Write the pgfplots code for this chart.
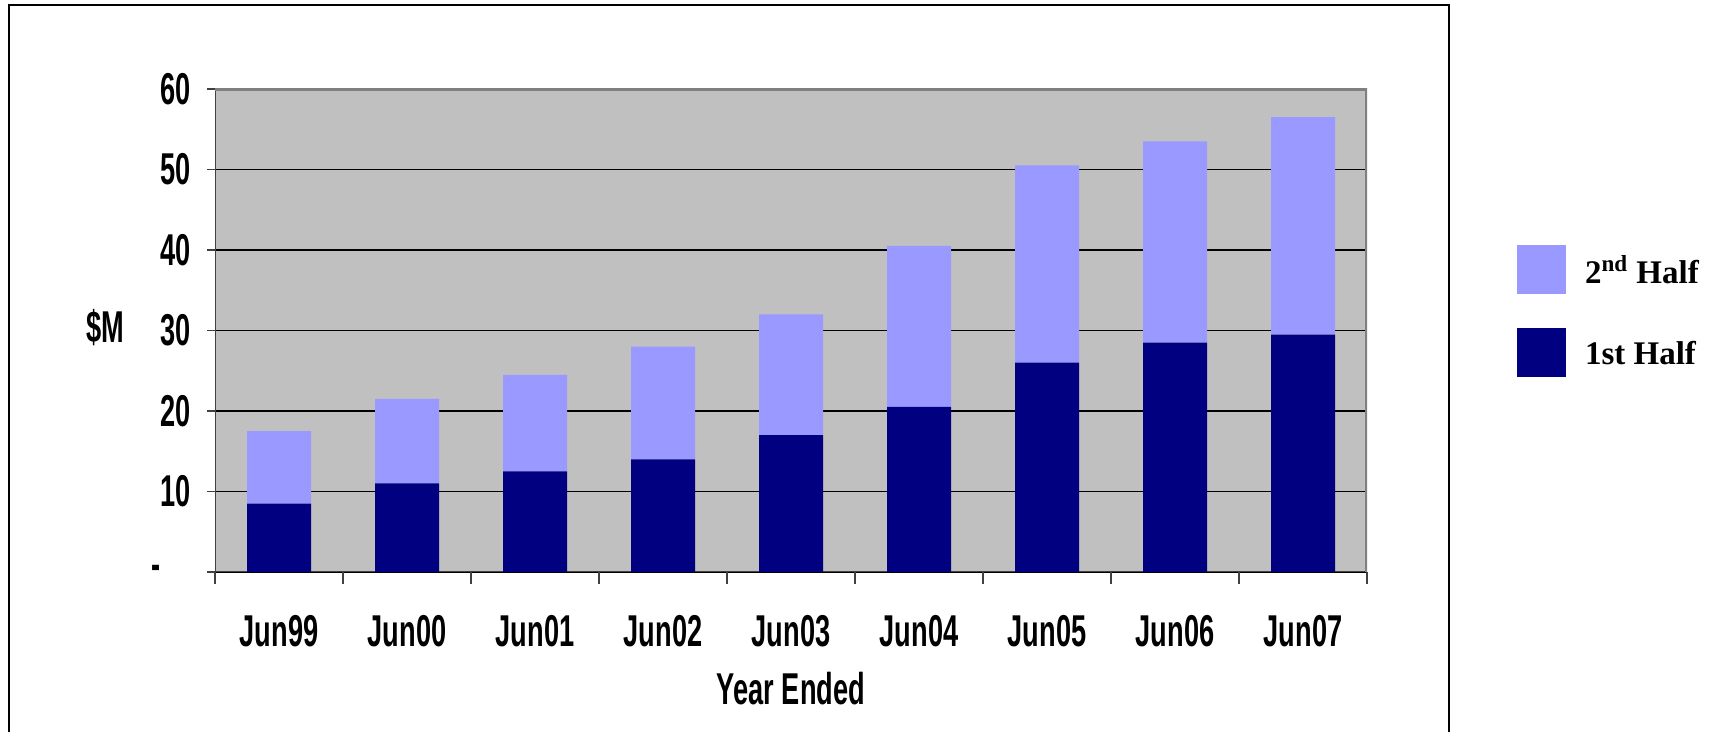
\documentclass[border=0pt]{standalone}
\usepackage{fontspec}
\usepackage{pgfplots}
\pgfplotsset{compat=1.18}
\setmainfont{Liberation Sans}
\newfontfamily\axfont[FakeStretch=0.61]{Liberation Sans}
\newfontfamily\legfont{Liberation Serif}
\definecolor{firsthalf}{HTML}{000080}
\definecolor{secondhalf}{HTML}{9999FF}
\definecolor{plotbg}{HTML}{C0C0C0}
\definecolor{border}{HTML}{808080}

\begin{document}
\begin{tikzpicture}
\useasboundingbox (0,0) rectangle (855.5pt,366pt);
% outer frame (open at the bottom, as in the source)
\draw[line width=0.75pt] (4.5pt,0) -- (4.5pt,363.5pt) -- (724.5pt,363.5pt) -- (724.5pt,0);
\begin{axis}[
  at={(107.5pt,80pt)}, anchor=south west,
  scale only axis, width=576pt, height=241.5pt,
  ybar stacked, bar width=32pt,
  xmin=-0.5, xmax=8.5, ymin=0, ymax=60,
  axis line style={draw=none},
  axis background/.style={fill=plotbg},
  xtick={0,...,8},
  xticklabels={Jun99,Jun00,Jun01,Jun02,Jun03,Jun04,Jun05,Jun06,Jun07},
  major x tick style={draw=none},
  minor xtick={-0.5,0.5,...,8.5},
  minor x tick style={draw=black!75, line width=0.8pt},
  minor tick length=6pt,
  ytick={0,10,...,60},
  yticklabels={{-\rule{15pt}{0pt}},10,20,30,40,50,60},
  major tick length=4pt,
  ytick style={draw=black!75, line width=0.8pt},
  tick align=outside, xtick pos=bottom, ytick pos=left,
  ymajorgrids, grid style={black, line width=0.6pt},
  ticklabel style={font={\axfont\bfseries\fontsize{22.3pt}{26pt}\selectfont}},
  xticklabel style={anchor=base, inner sep=0pt, yshift=-33.5pt},
  yticklabel style={anchor=east, inner sep=0pt, xshift=-8pt},
  xlabel={Year Ended},
  xlabel style={at={(axis description cs:0.5,-0.2733)}, anchor=base, inner sep=0pt,
    font={\axfont\bfseries\fontsize{22.3pt}{26pt}\selectfont}},
  ylabel={\$M},
  ylabel style={at={(axis description cs:-0.0955,0.507)}, anchor=center, rotate=-90, inner sep=0pt,
    font={\axfont\bfseries\fontsize{22.3pt}{26pt}\selectfont}},
  legend style={at={(axis description cs:1.1302,0.677)}, anchor=north west,
    draw=none, fill=none, inner sep=0pt, outer sep=0pt,
    row sep=17pt, column sep=9.5pt,
    nodes={inner sep=0pt, outer sep=0pt},
    font={\legfont\bfseries\fontsize{16.5pt}{20pt}\selectfont}},
  legend cell align=left,
  legend image code/.code={\fill[#1,draw=none] (0pt,-11.5pt) rectangle (24.5pt,13pt);},
  reverse legend,
]
\addplot[fill=firsthalf, draw=none] coordinates {
  (0,8.5) (1,11) (2,12.5) (3,14) (4,17) (5,20.5) (6,26) (7,28.5) (8,29.5)};
\addlegendentry{1st Half}
\addplot[fill=secondhalf, draw=none] coordinates {
  (0,9) (1,10.5) (2,12) (3,14) (4,15) (5,20) (6,24.5) (7,25) (8,27)};
\addlegendentry{2\textsuperscript{nd} Half}
% plot area border
\draw[border, line width=1.6pt] (rel axis cs:0,1) -- (rel axis cs:1,1) -- (rel axis cs:1,0);
\draw[black!75, line width=1pt] (rel axis cs:0,1) -- (rel axis cs:0,0) -- (rel axis cs:1,0);
\end{axis}
\end{tikzpicture}
\end{document}
